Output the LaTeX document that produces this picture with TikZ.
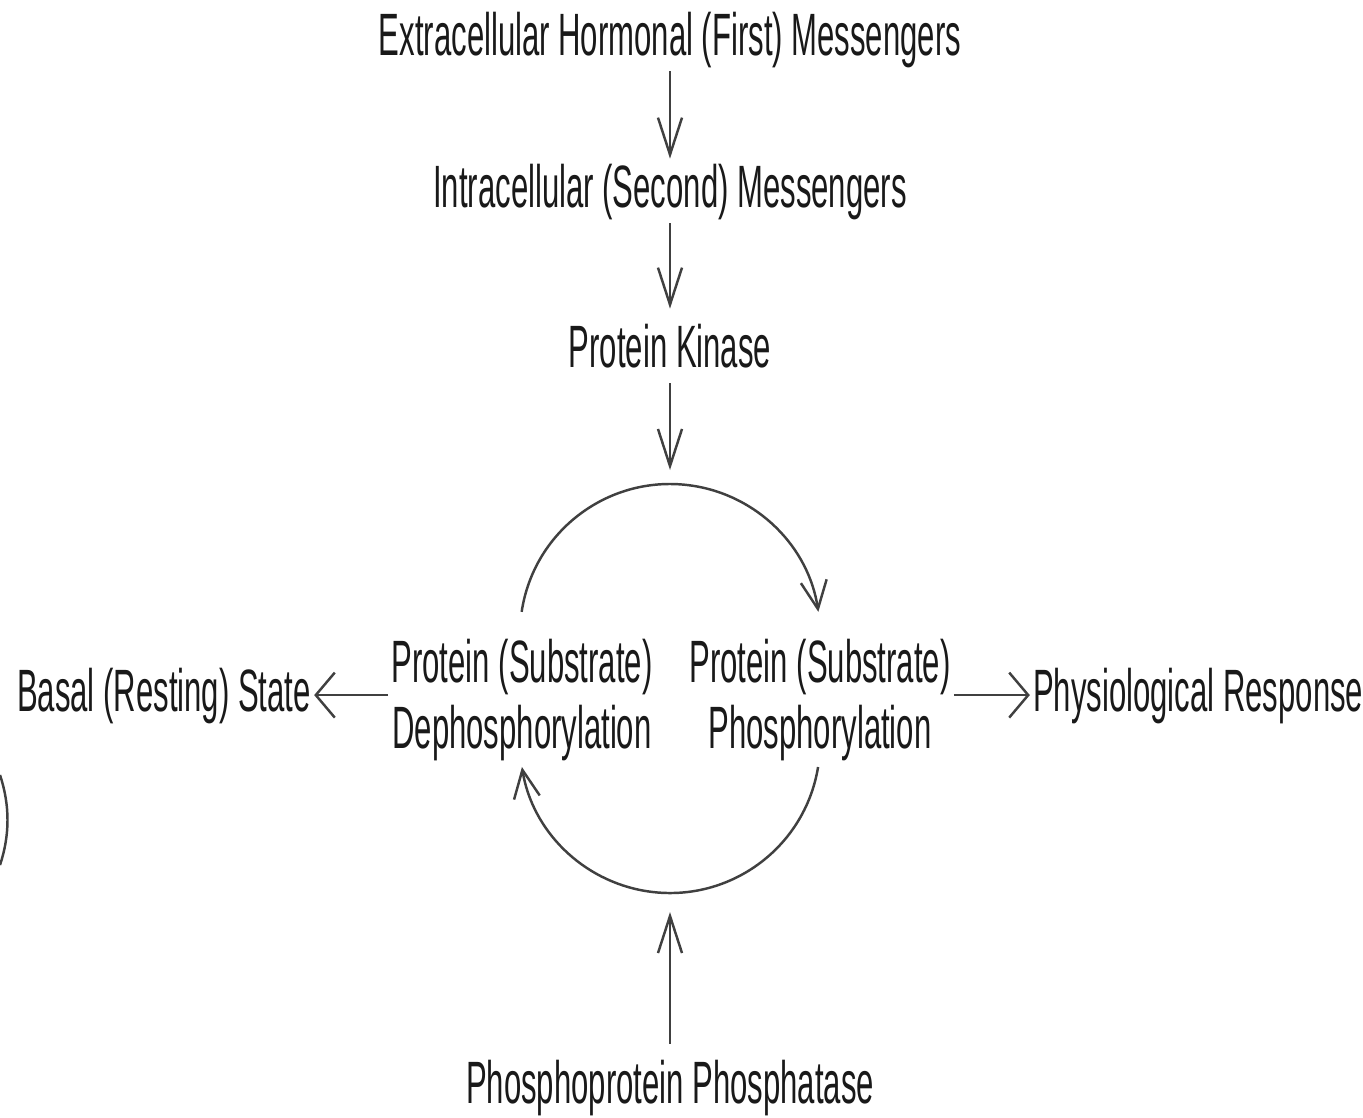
\documentclass[tikz,border=0pt]{standalone}
\usepackage{fontspec}
\setmainfont{Liberation Sans}[FakeStretch=0.52]
\usetikzlibrary{arrows.meta,positioning}
\tikzset{
cascade/.style={x=0.01cm,y=-0.01cm,line width=0.7pt,draw=black!75,
text=black!90,font=\fontsize{17}{18.7}\selectfont},
stage/.style={inner sep=0.6pt,text height=12.8pt,text depth=3.6pt,anchor=base},
pair/.style={align=center,inner sep=0.6pt,anchor=north},
down/.style={-{Straight Barb[length=3.7mm,width=2.4mm]}},
side/.style={-{Straight Barb[length=1.9mm,width=4.5mm]}},
turn/.style={-{Straight Barb[length=2.8mm,width=2.6mm]}},
}

\begin{document}
\begin{tikzpicture}[cascade]
  \useasboundingbox (0,0) rectangle (1363,1117);
  \node[stage] (first) at (670,55) {Extracellular Hormonal (First) Messengers};
  \node[stage] (second) at (670,207) {Intracellular (Second) Messengers};
  \node[stage] (kinase) at (670,367) {Protein Kinase};
  \node[pair] (dephos) at (522,636) {Protein (Substrate)\\Dephosphorylation};
  \node[pair] (phos) at (820,636) {Protein (Substrate)\\Phosphorylation};
  \node[stage,anchor=center] (basal) [left=0.74cm of dephos,yshift=0.05cm] {Basal (Resting) State};
  \node[stage,anchor=center] (response) [right=0.76cm of phos,yshift=0.05cm] {Physiological Response};
  \node[stage] (phosphatase) at (670,1103) {Phosphoprotein Phosphatase};
  \coordinate (upper) at (670,634);
  \coordinate (lower) at (670,743);
  \coordinate (top) at (670,484);
  \coordinate (bottom) at (670,893);

  \path[down] (first) edge (second);
  \path[down] (second) edge[shorten >=0.1cm] (kinase);
  \path[down] (kinase) edge[shorten >=0.14cm] (top);
  \path[down] (phosphatase) edge[shorten <=0.11cm,shorten >=0.19cm] (bottom);
  \path[side] (dephos.west |- basal) edge (basal);
  \path[side] (phos.east |- response) edge (response);

  % the cycle
  \draw[turn] (upper) ++(-171.5:150) arc[start angle=-171.5,end angle=-8.5,radius=150];
  \draw[turn] (lower) ++(9.2:150) arc[start angle=9.2,end angle=170.8,radius=150];

  \draw (0,775) .. controls (10,805) and (10,835) .. (0,865);
\end{tikzpicture}
\end{document}
